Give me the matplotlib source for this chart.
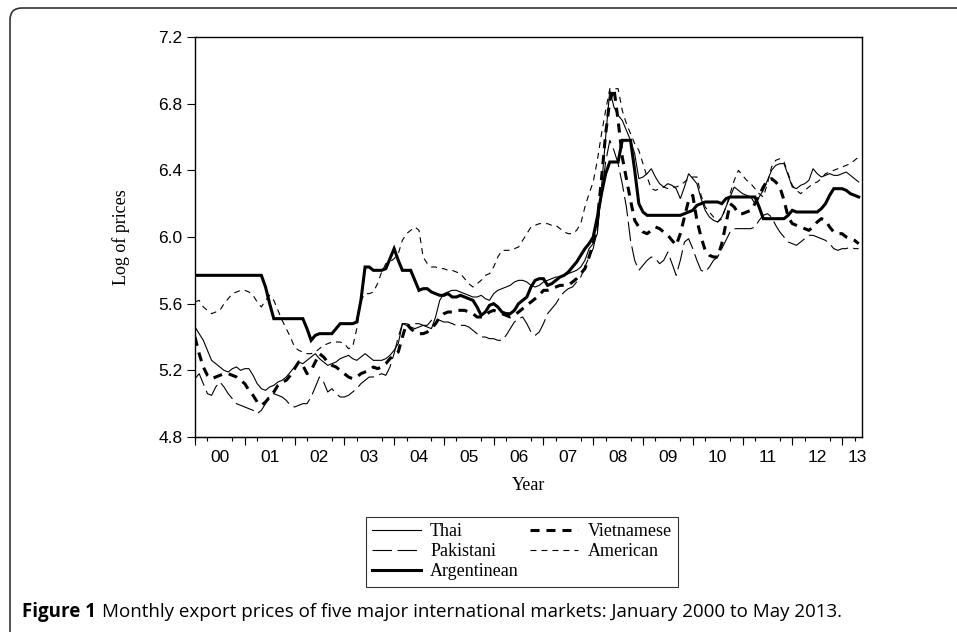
import numpy as np
import matplotlib
matplotlib.use("Agg")
import matplotlib.pyplot as plt
from matplotlib.patches import FancyBboxPatch
from matplotlib.transforms import IdentityTransform

# Monthly log export prices, Jan 2000 .. May 2013 (one row per year)
THAI = [
    5.46, 5.42, 5.38, 5.32, 5.26, 5.24, 5.22, 5.20, 5.19, 5.21, 5.22, 5.20,
    5.21, 5.21, 5.17, 5.12, 5.09, 5.08, 5.10, 5.11, 5.13, 5.14, 5.16, 5.19,
    5.22, 5.25, 5.24, 5.26, 5.28, 5.30, 5.27, 5.25, 5.23, 5.24, 5.25, 5.27,
    5.28, 5.29, 5.27, 5.26, 5.28, 5.30, 5.28, 5.26, 5.26, 5.26, 5.27, 5.29,
    5.32, 5.36, 5.48, 5.47, 5.46, 5.45, 5.46, 5.47, 5.46, 5.45, 5.52, 5.62,
    5.66, 5.67, 5.68, 5.68, 5.67, 5.66, 5.65, 5.64, 5.64, 5.65, 5.63, 5.62,
    5.66, 5.68, 5.69, 5.70, 5.71, 5.73, 5.74, 5.74, 5.73, 5.71, 5.70, 5.71,
    5.73, 5.74, 5.75, 5.76, 5.76, 5.77, 5.78, 5.79, 5.80, 5.82, 5.86, 5.93,
    5.96, 6.02, 6.30, 6.60, 6.88, 6.78, 6.73, 6.70, 6.64, 6.58, 6.50, 6.35,
    6.36, 6.38, 6.41, 6.36, 6.32, 6.30, 6.32, 6.31, 6.29, 6.23, 6.30, 6.38,
    6.35, 6.32, 6.23, 6.16, 6.12, 6.10, 6.09, 6.12, 6.18, 6.24, 6.30, 6.28,
    6.26, 6.25, 6.24, 6.20, 6.24, 6.28, 6.34, 6.40, 6.43, 6.44, 6.44, 6.37,
    6.30, 6.29, 6.31, 6.32, 6.34, 6.41, 6.38, 6.36, 6.37, 6.38, 6.37, 6.37,
    6.38, 6.39, 6.37, 6.35, 6.33,
]

PAKISTANI = [
    5.15, 5.18, 5.12, 5.06, 5.05, 5.10, 5.13, 5.10, 5.06, 5.03, 5.00, 4.99,
    4.98, 4.97, 4.96, 4.94, 4.96, 5.00, 5.05, 5.06, 5.05, 5.04, 5.02, 4.99,
    4.98, 4.99, 5.00, 5.00, 5.04, 5.10, 5.16, 5.13, 5.07, 5.09, 5.06, 5.04,
    5.04, 5.05, 5.07, 5.09, 5.12, 5.14, 5.16, 5.16, 5.17, 5.18, 5.17, 5.22,
    5.30, 5.40, 5.48, 5.48, 5.47, 5.48, 5.48, 5.47, 5.47, 5.50, 5.51, 5.50,
    5.49, 5.49, 5.48, 5.47, 5.47, 5.47, 5.46, 5.44, 5.42, 5.40, 5.40, 5.39,
    5.39, 5.38, 5.38, 5.41, 5.45, 5.49, 5.51, 5.52, 5.48, 5.43, 5.41, 5.43,
    5.48, 5.54, 5.57, 5.60, 5.64, 5.67, 5.69, 5.70, 5.73, 5.76, 5.82, 5.88,
    5.93, 6.05, 6.25, 6.45, 6.58, 6.52, 6.44, 6.32, 6.18, 5.98, 5.86, 5.80,
    5.83, 5.86, 5.88, 5.87, 5.84, 5.86, 5.91, 5.84, 5.77, 5.86, 5.97, 5.99,
    5.93, 5.86, 5.80, 5.79, 5.82, 5.86, 5.88, 5.93, 5.98, 6.03, 6.05, 6.05,
    6.05, 6.05, 6.05, 6.06, 6.10, 6.13, 6.14, 6.12, 6.07, 6.03, 6.00, 5.97,
    5.96, 5.95, 5.97, 5.99, 6.01, 6.01, 6.00, 5.99, 5.98, 5.96, 5.93, 5.92,
    5.93, 5.93, 5.94, 5.93, 5.93,
]

ARGENTINEAN = [
    5.77, 5.77, 5.77, 5.77, 5.77, 5.77, 5.77, 5.77, 5.77, 5.77, 5.77, 5.77,
    5.77, 5.77, 5.77, 5.77, 5.77, 5.70, 5.60, 5.51, 5.51, 5.51, 5.51, 5.51,
    5.51, 5.51, 5.51, 5.45, 5.38, 5.41, 5.42, 5.42, 5.42, 5.42, 5.45, 5.48,
    5.48, 5.48, 5.48, 5.49, 5.62, 5.82, 5.82, 5.80, 5.80, 5.80, 5.81, 5.87,
    5.93, 5.86, 5.80, 5.80, 5.80, 5.74, 5.68, 5.69, 5.69, 5.67, 5.66, 5.65,
    5.65, 5.66, 5.64, 5.64, 5.65, 5.64, 5.63, 5.62, 5.58, 5.53, 5.55, 5.59,
    5.60, 5.58, 5.55, 5.54, 5.54, 5.56, 5.60, 5.62, 5.64, 5.70, 5.74, 5.75,
    5.75, 5.71, 5.72, 5.74, 5.76, 5.77, 5.79, 5.82, 5.85, 5.89, 5.93, 5.96,
    6.00, 6.12, 6.26, 6.38, 6.45, 6.45, 6.45, 6.58, 6.58, 6.58, 6.40, 6.20,
    6.15, 6.13, 6.13, 6.13, 6.13, 6.13, 6.13, 6.13, 6.13, 6.13, 6.14, 6.15,
    6.16, 6.19, 6.20, 6.21, 6.21, 6.21, 6.21, 6.20, 6.23, 6.24, 6.24, 6.24,
    6.24, 6.24, 6.24, 6.24, 6.18, 6.11, 6.11, 6.11, 6.11, 6.11, 6.11, 6.13,
    6.16, 6.15, 6.15, 6.15, 6.15, 6.15, 6.15, 6.17, 6.20, 6.25, 6.29, 6.29,
    6.29, 6.28, 6.26, 6.25, 6.24,
]

VIETNAMESE = [
    5.40, 5.30, 5.22, 5.17, 5.15, 5.16, 5.17, 5.18, 5.18, 5.17, 5.16, 5.14,
    5.12, 5.08, 5.05, 5.01, 4.99, 5.01, 5.04, 5.07, 5.11, 5.13, 5.14, 5.17,
    5.21, 5.25, 5.23, 5.18, 5.20, 5.25, 5.30, 5.28, 5.25, 5.23, 5.22, 5.20,
    5.18, 5.16, 5.15, 5.16, 5.18, 5.19, 5.20, 5.22, 5.21, 5.22, 5.24, 5.27,
    5.29, 5.31, 5.40, 5.48, 5.45, 5.43, 5.42, 5.42, 5.43, 5.45, 5.48, 5.52,
    5.54, 5.55, 5.55, 5.56, 5.56, 5.56, 5.55, 5.54, 5.52, 5.52, 5.53, 5.55,
    5.56, 5.55, 5.54, 5.53, 5.52, 5.53, 5.55, 5.57, 5.59, 5.61, 5.63, 5.65,
    5.68, 5.68, 5.69, 5.70, 5.71, 5.71, 5.71, 5.73, 5.75, 5.78, 5.81, 5.88,
    5.96, 6.10, 6.35, 6.62, 6.82, 6.89, 6.70, 6.48, 6.35, 6.22, 6.10, 6.06,
    6.03, 6.02, 6.04, 6.06, 6.05, 6.03, 6.01, 5.98, 5.95, 6.02, 6.12, 6.22,
    6.25, 6.10, 6.00, 5.92, 5.89, 5.88, 5.88, 5.96, 6.08, 6.20, 6.18, 6.14,
    6.14, 6.15, 6.16, 6.20, 6.25, 6.30, 6.34, 6.35, 6.33, 6.30, 6.22, 6.12,
    6.08, 6.07, 6.06, 6.05, 6.04, 6.06, 6.09, 6.11, 6.10, 6.06, 6.03, 6.02,
    6.02, 6.00, 5.99, 5.98, 5.96,
]

AMERICAN = [
    5.61, 5.62, 5.58, 5.56, 5.54, 5.55, 5.56, 5.60, 5.63, 5.66, 5.67, 5.68,
    5.68, 5.67, 5.65, 5.61, 5.58, 5.62, 5.65, 5.62, 5.56, 5.50, 5.45, 5.40,
    5.34, 5.32, 5.31, 5.30, 5.30, 5.31, 5.33, 5.35, 5.36, 5.37, 5.37, 5.37,
    5.36, 5.33, 5.34, 5.45, 5.62, 5.66, 5.66, 5.67, 5.72, 5.79, 5.84, 5.85,
    5.87, 5.90, 5.98, 6.02, 6.04, 6.06, 6.04, 5.88, 5.84, 5.82, 5.82, 5.81,
    5.81, 5.80, 5.80, 5.79, 5.78, 5.75, 5.72, 5.70, 5.72, 5.74, 5.77, 5.78,
    5.82, 5.88, 5.92, 5.92, 5.92, 5.93, 5.94, 5.98, 6.02, 6.06, 6.07, 6.08,
    6.08, 6.08, 6.07, 6.07, 6.05, 6.03, 6.02, 6.02, 6.04, 6.08, 6.18, 6.26,
    6.33, 6.46, 6.62, 6.76, 6.89, 6.89, 6.89, 6.76, 6.68, 6.62, 6.56, 6.52,
    6.44, 6.36, 6.29, 6.28, 6.29, 6.30, 6.29, 6.30, 6.30, 6.31, 6.33, 6.35,
    6.36, 6.36, 6.25, 6.18, 6.15, 6.12, 6.09, 6.11, 6.18, 6.26, 6.34, 6.40,
    6.37, 6.34, 6.32, 6.29, 6.26, 6.24, 6.32, 6.42, 6.46, 6.47, 6.45, 6.38,
    6.31, 6.28, 6.26, 6.28, 6.30, 6.32, 6.33, 6.35, 6.38, 6.39, 6.40, 6.41,
    6.42, 6.43, 6.44, 6.46, 6.48,
]

YEAR_LABELS = ["00", "01", "02", "03", "04", "05", "06", "07",
               "08", "09", "10", "11", "12", "13"]
Y_TICKS = [4.8, 5.2, 5.6, 6.0, 6.4, 6.8, 7.2]

W, H = 957, 632
SERIF = "Liberation Serif"
SANS = "Liberation Sans"

# decimal year for every month, Jan 2000 = 2000.0
t = 2000 + np.arange(len(THAI)) / 12.0

plt.rcParams["lines.scale_dashes"] = False
fig = plt.figure(figsize=(W / 100, H / 100), dpi=100)
ax = fig.add_axes([195 / W, 1 - 437 / H, (862 - 195) / W, 400 / H])

styles = [
    ("Thai", THAI, dict(lw=0.8, ls="-")),
    ("Pakistani", PAKISTANI, dict(lw=0.8, ls=(0, (14, 4)))),
    ("Argentinean", ARGENTINEAN, dict(lw=2.2, ls="-")),
    ("Vietnamese", VIETNAMESE, dict(lw=2.2, ls=(0, (6.5, 5)))),
    ("American", AMERICAN, dict(lw=0.8, ls=(0, (4.3, 3.6)))),
]
for name, vals, st in styles:
    ax.plot(t, vals, color="black", label=name, solid_joinstyle="miter", **st)

ax.set_xlim(2000, 2013.4)
ax.set_ylim(4.8, 7.2)
ax.set_yticks(Y_TICKS)
ax.set_yticklabels([f"{v:.1f}" for v in Y_TICKS], fontfamily=SANS, fontsize=12.5)

# year labels in the middle of each year, long ticks at January, short ones each quarter
mids = [2000.5 + k for k in range(13)] + [2013.3]
ax.set_xticks(mids)
ax.set_xticklabels(YEAR_LABELS, fontfamily=SANS, fontsize=12.5)
ax.set_xticks(np.arange(2000, 2013.4, 0.25), minor=True)
ax.tick_params(axis="x", which="major", length=0, pad=9)
ax.tick_params(axis="x", which="minor", length=3, width=0.8, direction="out")
ax.tick_params(axis="y", length=6, width=0.8, direction="out", pad=3)
sec = ax.secondary_xaxis("bottom")
sec.set_xticks(np.arange(2000, 2014))
sec.tick_params(length=6, width=0.8, labelbottom=False)
for s in ax.spines.values():
    s.set_linewidth(1.0)

ax.set_ylabel("Log of prices", fontfamily=SERIF, fontsize=13, labelpad=20)
ax.set_xlabel("Year", fontfamily=SERIF, fontsize=13, labelpad=9)

leg = fig.legend(loc="upper left", bbox_to_anchor=(366 / W, 1 - 517 / H),
                 ncol=2, frameon=True, fancybox=False, borderaxespad=0,
                 prop={"family": SERIF, "size": 13}, handlelength=2.7,
                 handletextpad=0.5, labelspacing=0.17, columnspacing=0.6,
                 borderpad=0.35)
leg.get_frame().set_edgecolor("black")
leg.get_frame().set_linewidth(0.8)

# outer rounded frame of the figure panel
frame = FancyBboxPatch((10, -40), 1000, H - 8 + 40,
                       boxstyle="round,pad=0,rounding_size=12",
                       transform=IdentityTransform(), fill=False,
                       ec="#333333", lw=1.2)
fig.add_artist(frame)

cap_y = 1 - 612 / H
t1 = fig.text(22 / W, cap_y, "Figure 1", fontfamily="Open Sans",
              fontweight="bold", fontsize=13.5, va="center")
fig.canvas.draw()
bb = t1.get_window_extent(fig.canvas.get_renderer())
fig.text((bb.x1 + 6) / W, cap_y,
         "Monthly export prices of five major international markets: January 2000 to May 2013.",
         fontfamily="Open Sans", fontsize=13.5, va="center")

fig.savefig("out.png", dpi=100)
